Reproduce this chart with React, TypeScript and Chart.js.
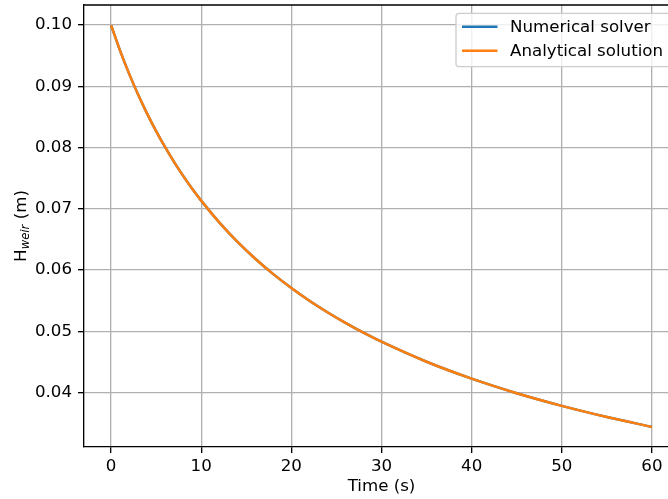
import React, { useEffect, useRef } from "react";
import { Chart, registerables } from "chart.js";

Chart.register(...registerables);

// Time (s)
const times = [0, 1, 2, 3, 4, 5, 6, 7, 8, 9, 10, 12, 14, 16, 18, 20, 22, 24, 26, 28, 30, 35, 40, 45, 50, 55, 60];
// Numerical solver H_weir (m)
const numerical = [0.1, 0.09583, 0.09207, 0.08865, 0.08554, 0.08269, 0.08006, 0.07763, 0.07538, 0.07328, 0.07133, 0.06778, 0.06464, 0.06185, 0.05933, 0.05706, 0.05499, 0.05311, 0.05137, 0.04977, 0.04829, 0.04502, 0.04226, 0.03988, 0.03782, 0.036, 0.03438];
// Analytical solution H_weir (m)
const analytical = [0.1, 0.09583, 0.09207, 0.08865, 0.08554, 0.08269, 0.08006, 0.07763, 0.07538, 0.07328, 0.07133, 0.06778, 0.06464, 0.06185, 0.05933, 0.05706, 0.05499, 0.05311, 0.05137, 0.04977, 0.04829, 0.04502, 0.04226, 0.03988, 0.03782, 0.036, 0.03438];

const xTicks = [0, 10, 20, 30, 40, 50, 60];
const yTicks = [0.04, 0.05, 0.06, 0.07, 0.08, 0.09, 0.1];
const seriesNames = ["Numerical solver", "Analytical solution"];
const seriesColors = ["#1f77b4", "#ff7f0e"];

const FONT = "DejaVu Sans";
const FS = 16.67;
const LW = 1.33;

const framePlugin = {
  id: "frame",
  afterDraw(chart: any) {
    const { ctx, chartArea } = chart;
    ctx.save();
    // top spine
    ctx.strokeStyle = "#000";
    ctx.lineWidth = LW;
    ctx.beginPath();
    ctx.moveTo(chartArea.left, chartArea.top);
    ctx.lineTo(chartArea.right, chartArea.top);
    ctx.lineTo(chartArea.right, chartArea.bottom);
    ctx.stroke();

    // legend
    const lx = 456, ly = 13.3, lw = 214.5, lh = 53.4, r = 3.3;
    ctx.beginPath();
    ctx.moveTo(lx + r, ly);
    ctx.lineTo(lx + lw - r, ly);
    ctx.arcTo(lx + lw, ly, lx + lw, ly + r, r);
    ctx.lineTo(lx + lw, ly + lh - r);
    ctx.arcTo(lx + lw, ly + lh, lx + lw - r, ly + lh, r);
    ctx.lineTo(lx + r, ly + lh);
    ctx.arcTo(lx, ly + lh, lx, ly + lh - r, r);
    ctx.lineTo(lx, ly + r);
    ctx.arcTo(lx, ly, lx + r, ly, r);
    ctx.closePath();
    ctx.fillStyle = "rgba(255,255,255,0.8)";
    ctx.fill();
    ctx.strokeStyle = "#cccccc";
    ctx.lineWidth = LW;
    ctx.stroke();

    ctx.font = `${FS}px "${FONT}"`;
    ctx.textBaseline = "alphabetic";
    ctx.textAlign = "left";
    seriesNames.forEach((name, i) => {
      const y = 26.7 + i * 24;
      ctx.strokeStyle = seriesColors[i];
      ctx.lineWidth = 2.5;
      ctx.beginPath();
      ctx.moveTo(462, y);
      ctx.lineTo(497.5, y);
      ctx.stroke();
      ctx.fillStyle = "#000";
      ctx.fillText(name, 510, y + 5.5);
    });

    // y-axis title: H_weir (m)
    const cy = (chartArea.top + chartArea.bottom) / 2;
    ctx.translate(26, cy);
    ctx.rotate(-Math.PI / 2);
    ctx.fillStyle = "#000";
    ctx.font = `${FS}px "${FONT}"`;
    const w1 = ctx.measureText("H").width;
    const w3 = ctx.measureText(" (m)").width;
    ctx.font = `italic ${FS * 0.7}px "${FONT}"`;
    const w2 = ctx.measureText("weir").width;
    let x = -(w1 + w2 + w3) / 2;
    ctx.font = `${FS}px "${FONT}"`;
    ctx.fillText("H", x, 0);
    x += w1;
    ctx.font = `italic ${FS * 0.7}px "${FONT}"`;
    ctx.fillText("weir", x, 2.5);
    x += w2;
    ctx.font = `${FS}px "${FONT}"`;
    ctx.fillText(" (m)", x, 0);
    ctx.restore();
  },
};

export default function App() {
  const ref = useRef<HTMLCanvasElement>(null);
  useEffect(() => {
    const canvas = ref.current!;
    const chart = new Chart(canvas, {
      type: "line",
      data: {
        datasets: [
          {
            label: seriesNames[0],
            data: times.map((t, i) => ({ x: t, y: numerical[i] })),
            borderColor: seriesColors[0],
            backgroundColor: seriesColors[0],
            borderWidth: 2.5,
            pointRadius: 0,
            cubicInterpolationMode: "monotone",
            order: 1,
          },
          {
            label: seriesNames[1],
            data: times.map((t, i) => ({ x: t, y: analytical[i] })),
            borderColor: seriesColors[1],
            backgroundColor: seriesColors[1],
            borderWidth: 2.5,
            pointRadius: 0,
            cubicInterpolationMode: "monotone",
            order: 0,
          },
        ],
      },
      options: {
        animation: false,
        responsive: false,
        devicePixelRatio: 1,
        layout: { padding: { top: 5, right: 1, left: 0, bottom: 0 } },
        plugins: {
          legend: { display: false },
          tooltip: { enabled: false },
        },
        scales: {
          x: {
            type: "linear",
            min: -3,
            max: 63,
            afterBuildTicks: (s: any) => {
              s.ticks = xTicks.map((v) => ({ value: v }));
            },
            afterFit: (s: any) => {
              s.height = 52;
              s.paddingLeft = 0;
              s.paddingRight = 0;
            },
            grid: {
              color: "#b0b0b0",
              lineWidth: LW,
              tickColor: "#000",
              tickWidth: LW,
              tickLength: 6,
            },
            border: { display: true, color: "#000", width: LW },
            ticks: {
              color: "#000",
              font: { family: FONT, size: FS },
              padding: 4,
              maxRotation: 0,
              callback: (v: any) => String(v),
            },
            title: {
              display: true,
              text: "Time (s)",
              color: "#000",
              font: { family: FONT, size: FS },
              padding: { top: 0, bottom: 2 },
            },
          },
          y: {
            type: "linear",
            min: 0.0311,
            max: 0.10328,
            afterBuildTicks: (s: any) => {
              s.ticks = yTicks.map((v) => ({ value: v }));
            },
            afterFit: (s: any) => {
              s.width = 84;
              s.paddingTop = 0;
              s.paddingBottom = 0;
            },
            grid: {
              color: "#b0b0b0",
              lineWidth: LW,
              tickColor: "#000",
              tickWidth: LW,
              tickLength: 6,
            },
            border: { display: true, color: "#000", width: LW },
            ticks: {
              color: "#000",
              font: { family: FONT, size: FS },
              padding: 6,
              callback: (v: any) => Number(v).toFixed(2),
            },
          },
        },
      },
      plugins: [framePlugin],
    });
    return () => chart.destroy();
  }, []);
  return (
    <div style={{ position: "fixed", left: 0, top: 0, width: 668, height: 499, overflow: "hidden", background: "#fff" }}>
      <canvas ref={ref} width={680} height={499} style={{ display: "block" }} />
    </div>
  );
}
